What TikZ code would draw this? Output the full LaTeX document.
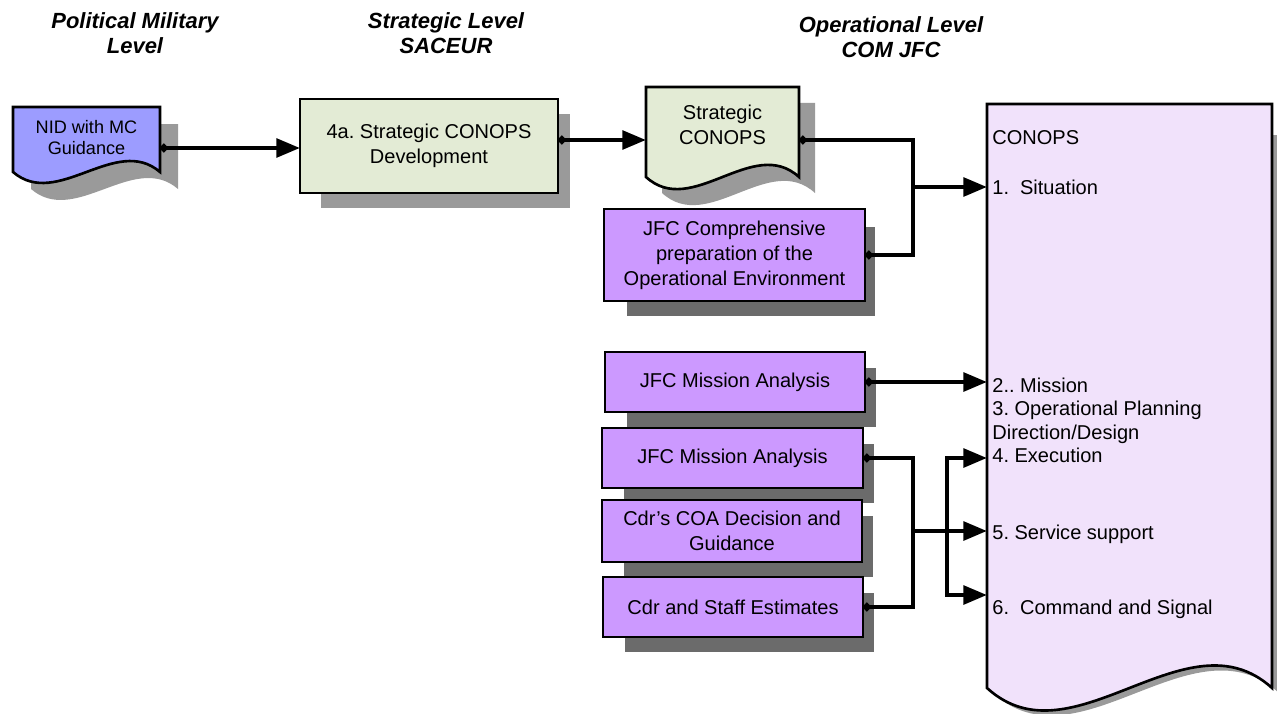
\documentclass[tikz,border=0pt]{standalone}
\usepackage{fontspec}
\setmainfont{Liberation Sans}
\usetikzlibrary{arrows.meta,calc}
\frenchspacing

\definecolor{nidblue}{HTML}{9C9CFF}
\definecolor{stratgreen}{HTML}{E3EBD5}
\definecolor{jfcpurple}{HTML}{CC99FF}
\definecolor{conopslav}{HTML}{F1E2FB}
\definecolor{shadowlight}{HTML}{9A9A9A}
\definecolor{shadowdark}{HTML}{6B6B6B}

\pgfdeclarelayer{shadow}
\pgfsetlayers{shadow,main}

% document shape: style, left x, top y, right x, wave baseline y, wave control offset
\newcommand\docshape[6]{%
  \path[#1] (#2,#3) -- (#4,#3) -- (#4,#5)
    .. controls ({#4-0.3*(#4-#2)},{#5-#6}) and ({#2+0.3*(#4-#2)},{#5+#6}) .. (#2,#5) -- cycle;}

\tikzset{
  bodyfont/.style={font=\fontsize{11.4}{14.2}\selectfont},
  hdr/.style={font=\fontsize{12.5}{14.2}\selectfont\bfseries\itshape, align=center, inner sep=0pt},
  boxbase/.style={draw=black, line width=1.5pt, align=center, inner sep=0pt, outer sep=0pt, bodyfont},
  pbox/.style={boxbase, fill=jfcpurple},
  gbox/.style={boxbase, fill=stratgreen},
  docline/.style={draw=black, line width=1.5pt},
  area/.style={inner sep=0pt, outer sep=0pt},
  cnt/.style={bodyfont, anchor=base west, inner sep=0pt},
  tip/.tip={Triangle[length=13.5pt, width=10.5pt]},
  dot/.tip={Circle[length=4.5pt]},
  conn/.style={line width=2.6pt, dot-tip},
  link/.style={line width=2.6pt, dot-},
  arr/.style={line width=2.6pt, -tip},
}

\begin{document}
\begin{tikzpicture}[x={(0.02cm,0)}, y={(0,-0.02cm)}]
\useasboundingbox (0,0) rectangle (1277,713);

% level headings
\node[hdr, anchor=north] (hpol) at (135,12) {Political Military\\Level};
\node[hdr, anchor=north] (hstr) at (446,12) {Strategic Level\\SACEUR};
\node[hdr, anchor=north] (hop) at (891,16) {Operational Level\\COM JFC};

% shadows of the document shapes
\begin{pgfonlayer}{shadow}
  \docshape{fill=shadowlight}{31}{124}{178}{189}{38}
  \docshape{fill=shadowlight}{662}{103}{815}{193}{42}
  \docshape{fill=shadowlight}{993}{135}{1279}{693}{78}
\end{pgfonlayer}

% NID document
\docshape{docline, fill=nidblue}{13}{107}{160}{172}{38}
\node[area, minimum width=2.94cm, minimum height=1.64cm] (nid) at (86.5,148) {};
\node[font=\fontsize{10.3}{11.9}\selectfont, align=center, inner sep=0pt] (nidtxt) at (86.5,137.5) {NID with MC\\Guidance};

% strategic CONOPS development
\node[gbox, minimum width=5.16cm, minimum height=1.88cm] (box4a) at (429,146) {4a. Strategic CONOPS\\Development};

% strategic CONOPS document
\docshape{docline, fill=stratgreen}{646}{87}{799}{177}{42}
\node[area, minimum width=3.06cm, minimum height=2.12cm] (scon) at (722.5,140) {};
\node[bodyfont, align=center, inner sep=0pt] (scontxt) at (722.5,124.5) {Strategic\\CONOPS};

% JFC boxes
\node[pbox, minimum width=5.22cm, minimum height=1.84cm] (jfc) at (734.5,255) {JFC Comprehensive\\preparation of the\\Operational Environment};
\node[pbox, minimum width=5.2cm, minimum height=1.2cm] (ma1) at (735,382) {JFC Mission Analysis};
\node[pbox, minimum width=5.22cm, minimum height=1.2cm] (ma2) at (732.5,458) {JFC Mission Analysis};
\node[pbox, minimum width=5.2cm, minimum height=1.24cm] (coa) at (732,531) {Cdr's COA Decision and\\Guidance};
\node[pbox, minimum width=5.2cm, minimum height=1.2cm] (staff) at (733,607) {Cdr and Staff Estimates};

% shadows of the boxes
\begin{pgfonlayer}{shadow}
  \fill[shadowlight] ($(box4a.north west)+(21,15)$) rectangle ($(box4a.south east)+(12,15)$);
  \fill[shadowdark] ($(jfc.north west)+(23,18)$) rectangle ($(jfc.south east)+(10,15)$);
  \foreach \b in {ma1,ma2,coa,staff}
    \fill[shadowdark] ($(\b.north west)+(22,16)$) rectangle ($(\b.south east)+(11,15)$);
\end{pgfonlayer}

% CONOPS document
\docshape{docline, fill=conopslav}{987}{104}{1272}{688}{78}
\node[area, minimum width=5.7cm, minimum height=11.68cm] (conops) at (1129.5,396) {};
\node[cnt] (ct0) at (992,144) {CONOPS};
\node[cnt] (ct1) at (992,194) {1.\hspace{0.55em}Situation};
\node[cnt] (ct2) at (992,392) {2.. Mission};
\node[cnt] (ct3) at (992,415.5) {3. Operational Planning};
\node[cnt] (ct3b) at (992,439) {Direction/Design};
\node[cnt] (ct4) at (992,462.5) {4. Execution};
\node[cnt] (ct5) at (992,539) {5. Service support};
\node[cnt] (ct6) at (992,614) {6.\hspace{0.55em}Command and Signal};

% connectors
\draw[conn] (nid.east) -- (nid.east -| box4a.west);
\draw[conn] (box4a.east |- scon.west) -- (scon.west);

\coordinate (j1) at (913,187);
\draw[link] (scon.east) -| (j1);
\draw[link] (jfc.east) -| (j1);
\draw[arr] (j1) -- (j1 -| conops.west);

\draw[conn] (ma1.east) -- (ma1.east -| conops.west);

\coordinate (j2) at (913,531);
\draw[link] (ma2.east) -| (j2);
\draw[link] (staff.east) -| (j2);
\draw[arr] (j2) -- (j2 -| conops.west);

\coordinate (b4) at (947,458);
\coordinate (b6) at (947,595);
\draw[line width=2.6pt, tip-tip] (b4 -| conops.west) -- (b4) -- (b6) -- (b6 -| conops.west);
\end{tikzpicture}
\end{document}
